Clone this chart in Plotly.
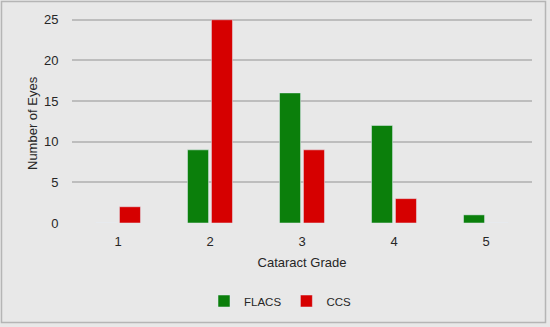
import plotly.graph_objects as go

grades = ["1", "2", "3", "4", "5"]
flacs = [0, 9, 16, 12, 1]
ccs = [2, 25, 9, 3, 0]
y_ticks = [0, 5, 10, 15, 20, 25]

W, H = 550, 327
ml, mr, mt, mb = 72, 18, 10, 104
pw, ph = W - ml - mr, H - mt - mb

def px_x(p):
    return (p - ml) / pw

def px_y(p):
    return (H - mb - p) / ph

font = "Liberation Sans, Arial, sans-serif"
txt = "#262626"

fig = go.Figure()
fig.add_trace(go.Bar(name="FLACS", x=grades, y=flacs, marker_color="#0b7f0b"))
fig.add_trace(go.Bar(name="CCS", x=grades, y=ccs, marker_color="#d60000"))

fig.update_layout(
    width=W, height=H,
    margin=dict(l=ml, r=mr, t=mt, b=mb, pad=0, autoexpand=False),
    paper_bgcolor="#e8e8e8",
    plot_bgcolor="#e8e8e8",
    barmode="group",
    bargap=0.48,
    bargroupgap=0.12,
    font=dict(family=font, size=13, color=txt),
    showlegend=True,
    legend=dict(orientation="h", x=px_x(204), xanchor="left",
                y=px_y(301), yanchor="middle", bgcolor="rgba(0,0,0,0)",
                font=dict(size=11.5, color=txt), itemwidth=30,
                tracegroupgap=0),
    xaxis=dict(title=dict(text="Cataract Grade", standoff=10,
                          font=dict(size=13, color=txt)),
               automargin=False,
               showgrid=False, zeroline=False, showline=False,
               tickfont=dict(size=13, color=txt),
               ticks="outside", ticklen=6, tickcolor="rgba(0,0,0,0)"),
    yaxis=dict(automargin=False,
               range=[0, 26.2], tickvals=y_ticks,
               showgrid=True, gridcolor="#bdbdbd", gridwidth=1.5,
               zeroline=False, showline=False,
               ticks="outside", ticklen=10, tickcolor="rgba(0,0,0,0)",
               tickfont=dict(size=13, color=txt)),
    annotations=[dict(text="Number of Eyes", textangle=-90, showarrow=False,
                      xref="paper", yref="paper", x=px_x(32), y=px_y(123),
                      xanchor="center", yanchor="middle",
                      font=dict(size=13, color=txt))],
    shapes=[dict(type="rect", xref="paper", yref="paper",
                 x0=px_x(1.5), x1=px_x(545.5), y0=px_y(322.5), y1=px_y(1.5),
                 line=dict(color="#b5b5b5", width=1.5), layer="below")],
)

fig.write_html("out.html", config={"displayModeBar": False},
               post_script="document.body.style.margin='0';document.body.style.overflow='hidden';")
